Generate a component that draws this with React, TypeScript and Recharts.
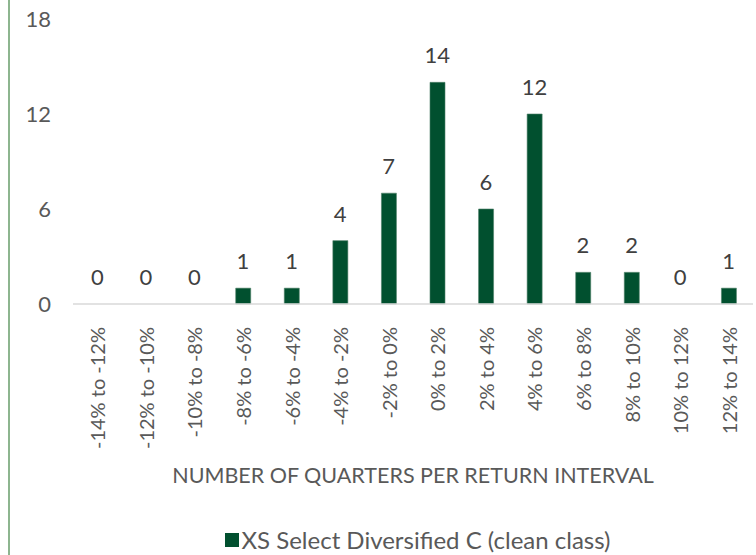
import React from 'react';
import { ComposedChart, Bar, Line, XAxis, YAxis, Legend, Label } from 'recharts';

const categories = [
  '-14% to -12%', '-12% to -10%', '-10% to -8%', '-8% to -6%', '-6% to -4%',
  '-4% to -2%', '-2% to 0%', '0% to 2%', '2% to 4%', '4% to 6%',
  '6% to 8%', '8% to 10%', '10% to 12%', '12% to 14%',
];
const counts = [0, 0, 0, 1, 1, 4, 7, 14, 6, 12, 2, 2, 0, 1];
const yTicks = [0, 6, 12, 18];
const seriesName = 'XS Select Diversified C (clean class)';
const axisTitle = 'NUMBER OF QUARTERS PER RETURN INTERVAL';

const data = categories.map((c, i) => ({ category: c, value: counts[i] }));

const FONT = 'Lato, "Open Sans", sans-serif';
const BAR_COLOR = '#01502F';
const TEXT_COLOR = '#595959';

const XTick = (props: any) => {
  const { x, y, payload } = props;
  return (
    <text
      x={x}
      y={y + 15}
      transform={`rotate(-90, ${x}, ${y + 15})`}
      textAnchor="end"
      dominantBaseline="central"
      fontFamily={FONT}
      fontSize={20}
      fill={TEXT_COLOR}
    >
      {payload.value}
    </text>
  );
};

const ValueLabel = (props: any) => {
  const { x, y, value } = props;
  return (
    <text x={x} y={y - 19} textAnchor="middle" fontFamily={FONT} fontSize={22} fill="#404040">
      {value}
    </text>
  );
};

const LegendContent = () => (
  <div style={{ display: 'flex', justifyContent: 'center', alignItems: 'center', fontFamily: FONT, fontSize: 24, color: TEXT_COLOR, lineHeight: '30px' }}>
    <span style={{ width: 14, height: 14, background: BAR_COLOR, display: 'inline-block', marginRight: 2 }} />
    <span>{seriesName}</span>
  </div>
);

export default function App() {
  return (
    <div style={{ position: 'absolute', left: 0, top: 0, width: 756, height: 555, background: '#fff' }}>
      <div style={{ position: 'absolute', left: 8, top: 0, width: 2, height: 555, background: '#8DB58F' }} />
      <ComposedChart
        width={756}
        height={555}
        data={data}
        margin={{ top: 19, right: 3, left: 0, bottom: 0 }}
        barCategoryGap={0}
      >
        <YAxis
          domain={[0, 18]}
          ticks={yTicks}
          width={73}
          axisLine={false}
          tickLine={false}
          tickSize={0}
          tickMargin={22}
          tick={{ fontFamily: FONT, fontSize: 22, fill: TEXT_COLOR }}
        />
        <XAxis
          dataKey="category"
          interval={0}
          height={221}
          axisLine={{ stroke: '#D9D9D9', strokeWidth: 1.5 }}
          tickLine={false}
          tick={<XTick />}
        >
          <Label
            value={axisTitle}
            position="insideBottom"
            offset={42}
            style={{ fontFamily: FONT, fontSize: 21.5, fill: TEXT_COLOR }}
          />
        </XAxis>
        <Legend
          verticalAlign="bottom"
          content={<LegendContent />}
          wrapperStyle={{ left: 73, width: 690, height: 30 }}
        />
        <Bar dataKey="value" name={seriesName} fill={BAR_COLOR} stroke="#4F8068" strokeWidth={0.6} barSize={15} isAnimationActive={false} />
        <Line
          dataKey="value"
          stroke="none"
          dot={false}
          activeDot={false}
          legendType="none"
          label={<ValueLabel />}
          isAnimationActive={false}
        />
      </ComposedChart>
    </div>
  );
}
